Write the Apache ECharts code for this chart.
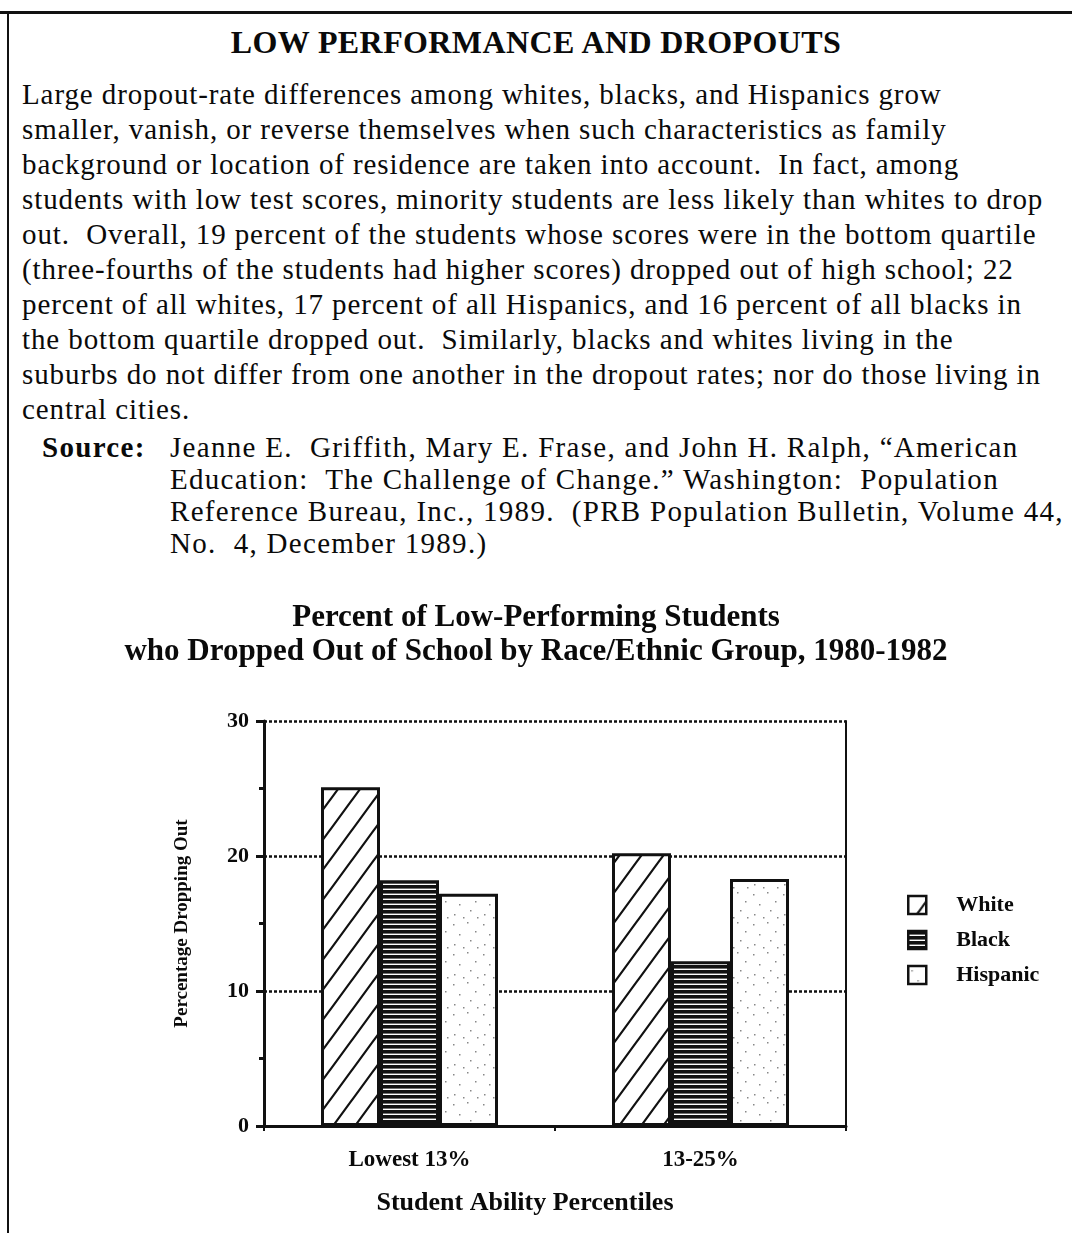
<!DOCTYPE html>
<html>
<head>
<meta charset="utf-8">
<title>Low Performance and Dropouts</title>
<script src="https://cdn.jsdelivr.net/npm/echarts@6/dist/echarts.min.js"></script>
<style>
  html, body { margin: 0; padding: 0; background: #fff; }
  body {
    width: 1072px; height: 1233px; position: relative; overflow: hidden;
    font-family: "Liberation Serif", "Times New Roman", serif; color: #0a0a0a;
  }
  .frame-top { position: absolute; left: 0; top: 11px; width: 1072px; height: 3px; background: #111; }
  .frame-left { position: absolute; left: 7px; top: 11px; width: 2px; height: 1222px; background: #111; }
  .head {
    position: absolute; left: 0; top: 24px; width: 1072px; text-align: center;
    font-weight: bold; font-size: 32px; letter-spacing: 0.4px; line-height: 36px;
  }
  .para {
    position: absolute; left: 22px; top: 77px; font-size: 29px; letter-spacing: 0.9px;
    line-height: 35px; white-space: nowrap;
  }
  .src {
    position: absolute; left: 42px; top: 431px; font-size: 29px; letter-spacing: 1.3px;
    line-height: 32px; white-space: nowrap;
  }
  .src b { position: absolute; left: 0; top: 0; }
  .src .lines { margin-left: 128px; }
  #chart { position: absolute; left: 0; top: 560px; width: 1072px; height: 673px; }
</style>
</head>
<body>
<div class="frame-top"></div>
<div class="frame-left"></div>
<div class="head">LOW PERFORMANCE AND DROPOUTS</div>
<div class="para">
  Large dropout-rate differences among whites, blacks, and Hispanics grow<br>
  smaller, vanish, or reverse themselves when such characteristics as family<br>
  background or location of residence are taken into account.&nbsp; In fact, among<br>
  students with low test scores, minority students are less likely than whites to drop<br>
  out.&nbsp; Overall, 19 percent of the students whose scores were in the bottom quartile<br>
  (three-fourths of the students had higher scores) dropped out of high school; 22<br>
  percent of all whites, 17 percent of all Hispanics, and 16 percent of all blacks in<br>
  the bottom quartile dropped out.&nbsp; Similarly, blacks and whites living in the<br>
  suburbs do not differ from one another in the dropout rates; nor do those living in<br>
  central cities.
</div>
<div class="src">
  <b>Source:</b>
  <div class="lines">
    Jeanne E.&nbsp; Griffith, Mary E. Frase, and John H. Ralph, “American<br>
    Education:&nbsp; The Challenge of Change.” Washington:&nbsp; Population<br>
    Reference Bureau, Inc., 1989.&nbsp; (PRB Population Bulletin, Volume 44,<br>
    No.&nbsp; 4, December 1989.)
  </div>
</div>
<div id="chart"></div>
<script>
// 数据
var categories = ['Lowest 13%', '13-25%']
var white = [25.1, 20.2]
var black = [18.2, 12.2]
var hispanic = [17.2, 18.3]
var seriesNames = ['White', 'Black', 'Hispanic']

var serif = '"Liberation Serif", "Times New Roman", serif'

// 斜线填充
function hatchPattern() {
  var c = document.createElement('canvas')
  c.width = 22; c.height = 30
  var ctx = c.getContext('2d')
  ctx.fillStyle = '#fff'
  ctx.fillRect(0, 0, 22, 30)
  ctx.strokeStyle = '#111'
  ctx.lineWidth = 2.2
  ctx.beginPath()
  ctx.moveTo(0, 30); ctx.lineTo(22, 0)
  ctx.moveTo(-3, 4); ctx.lineTo(3, -4)
  ctx.moveTo(19, 34); ctx.lineTo(25, 26)
  ctx.stroke()
  return c
}
// 横线填充
function stripePattern() {
  var c = document.createElement('canvas')
  c.width = 8; c.height = 5
  var ctx = c.getContext('2d')
  ctx.fillStyle = '#111'
  ctx.fillRect(0, 0, 8, 5)
  ctx.fillStyle = '#fff'
  ctx.fillRect(0, 3.6, 8, 1.4)
  return c
}
// 点状填充
function dotPattern() {
  var c = document.createElement('canvas')
  c.width = 30; c.height = 30
  var ctx = c.getContext('2d')
  ctx.fillStyle = '#fff'
  ctx.fillRect(0, 0, 30, 30)
  ctx.fillStyle = '#888'
  var dots = [[3, 4], [17, 2], [25, 11], [9, 14], [20, 20], [4, 24], [13, 27], [27, 27]]
  dots.forEach(function (d) { ctx.fillRect(d[0], d[1], 1.5, 1.5) })
  return c
}

var fills = [hatchPattern(), stripePattern(), dotPattern()]
var values = [white, black, hispanic]

var myChart = echarts.init(document.getElementById('chart'))
myChart.setOption({
  animation: false,
  title: {
    text: 'Percent of Low-Performing Students\nwho Dropped Out of School by Race/Ethnic Group, 1980-1982',
    left: 'center',
    top: 36,
    textStyle: { fontFamily: serif, fontWeight: 'bold', fontSize: 31, lineHeight: 34, color: '#0a0a0a', align: 'center' }
  },
  legend: {
    orient: 'vertical',
    left: 902,
    top: 329,
    itemWidth: 18,
    itemHeight: 18,
    itemGap: 13,
    icon: 'rect',
    data: seriesNames,
    itemStyle: { borderColor: '#111', borderWidth: 2.5 },
    textStyle: { fontFamily: serif, fontWeight: 'bold', fontSize: 22, lineHeight: 18, color: '#0a0a0a', padding: [0, 0, 0, 25] }
  },
  grid: { left: 264, right: 226, top: 161, bottom: 107, containLabel: false },
  xAxis: [{
    type: 'category',
    data: categories,
    axisLine: { lineStyle: { color: '#111', width: 3 } },
    axisTick: { show: true, length: 5, lineStyle: { color: '#111', width: 2 } },
    axisLabel: { fontFamily: serif, fontWeight: 'bold', fontSize: 23, color: '#0a0a0a', margin: 23 },
    name: 'Student Ability Percentiles',
    nameLocation: 'middle',
    nameGap: 64,
    nameTextStyle: { fontFamily: serif, fontWeight: 'bold', fontSize: 26, color: '#0a0a0a', padding: [0, 60, 0, 0] }
  }, {
    type: 'category',
    position: 'top',
    data: categories,
    axisLine: { show: true, lineStyle: { color: '#111', width: 1.5 } },
    axisTick: { show: false },
    axisLabel: { show: false }
  }],
  yAxis: [{
    type: 'value',
    min: 0,
    max: 30,
    interval: 10,
    axisLine: { show: true, lineStyle: { color: '#111', width: 3 } },
    axisTick: { show: true, length: 8, lineStyle: { color: '#111', width: 3 } },
    minorTick: { show: true, splitNumber: 2, length: 5, lineStyle: { color: '#111', width: 3 } },
    axisLabel: { fontFamily: serif, fontWeight: 'bold', fontSize: 22, color: '#0a0a0a', margin: 15 },
    splitLine: { show: true, lineStyle: { type: [3, 2], width: 2.5, color: '#111' } },
    name: 'Percentage Dropping Out',
    nameLocation: 'middle',
    nameGap: 72,
    nameTextStyle: { fontFamily: serif, fontWeight: 'bold', fontSize: 19, color: '#0a0a0a' }
  }, {
    type: 'value',
    position: 'right',
    min: 0,
    max: 30,
    interval: 10,
    axisLine: { show: true, lineStyle: { color: '#111', width: 2 } },
    axisTick: { show: false },
    axisLabel: { show: false },
    splitLine: { show: false }
  }],
  series: seriesNames.map(function (name, i) {
    return {
      name: name,
      type: 'bar',
      data: values[i],
      barWidth: 59,
      barGap: '0%',
      itemStyle: {
        color: { image: fills[i], repeat: 'repeat' },
        borderColor: '#111',
        borderWidth: 3
      }
    }
  })
})
</script>
</body>
</html>
